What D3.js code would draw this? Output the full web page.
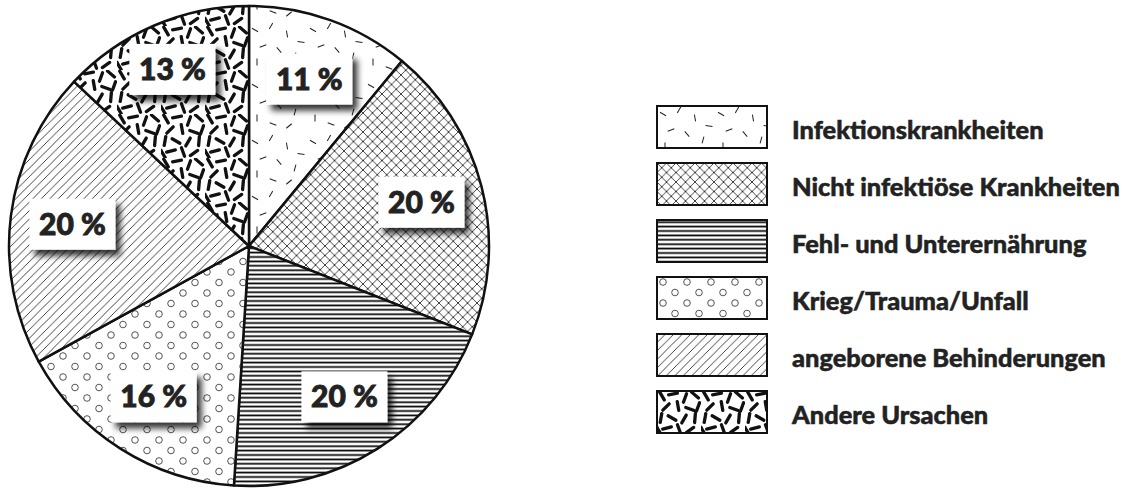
<!DOCTYPE html>
<html lang="de">
<head>
<meta charset="UTF-8">
<title>Todesursachen</title>
<script src="https://cdn.jsdelivr.net/npm/d3@7"></script>
<style>
    body { margin: 0; background: #fff; }
    svg { display: block; }
    .lbl { font-family: Lato, "DejaVu Sans", sans-serif; font-weight: 900; }
</style>
</head>
<body>
<script>
    // data
    const categories = ["Infektionskrankheiten", "Nicht infektiöse Krankheiten", "Fehl- und Unterernährung",
                        "Krieg/Trauma/Unfall", "angeborene Behinderungen", "Andere Ursachen"]
    const values = [11, 20, 20, 16, 20, 13]
    const patternIds = ["dash", "cross", "hlines", "rings", "diag", "blots"]

    const width = 1125, height = 488
    const cx = 249, cy = 246, R = 240

    const svg = d3.select("body").append("svg")
        .attr("width", width).attr("height", height)
        .attr("viewBox", `0 0 ${width} ${height}`)

    const defs = svg.append("defs")

    // shadow for label boxes
    const f = defs.append("filter").attr("id", "shadow")
        .attr("x", "-20%").attr("y", "-20%").attr("width", "150%").attr("height", "160%")
    f.append("feGaussianBlur").attr("in", "SourceAlpha").attr("stdDeviation", 3).attr("result", "b")
    f.append("feOffset").attr("in", "b").attr("dx", 5).attr("dy", 6).attr("result", "o")
    f.append("feComponentTransfer").attr("in", "o").attr("result", "s")
        .append("feFuncA").attr("type", "linear").attr("slope", 0.8)
    const fm = f.append("feMerge")
    fm.append("feMergeNode").attr("in", "s")
    fm.append("feMergeNode").attr("in", "SourceGraphic")

    function pattern(id, w, h) {
        const p = defs.append("pattern").attr("id", id)
            .attr("patternUnits", "userSpaceOnUse").attr("width", w).attr("height", h)
        p.append("rect").attr("width", w).attr("height", h).attr("fill", "#fff")
        return p
    }

    // sparse thin dashes
    const thin = [[6,8,30],[22,4,-60],[38,12,80],[14,24,-20],[30,28,50],[46,34,-75],
                  [8,40,90],[24,46,20],[40,48,-40],[52,20,10]]
    const pDash = pattern("dash", 58, 56)
    thin.forEach(([x, y, a]) => {
        pDash.append("line").attr("x1", -3.5).attr("x2", 3.5).attr("y1", 0).attr("y2", 0)
            .attr("transform", `translate(${x},${y}) rotate(${a})`)
            .attr("stroke", "#222").attr("stroke-width", 1)
    })

    // cross hatch
    const pCross = pattern("cross", 9.5, 9.5)
    pCross.append("path").attr("d", "M0,0L9.5,9.5M9.5,0L0,9.5M-1,8.5L1,10.5M8.5,-1L10.5,1M-1,1L1,-1M8.5,10.5L10.5,8.5")
        .attr("stroke", "#222").attr("stroke-width", 0.85)

    // horizontal lines
    const pH = pattern("hlines", 10, 4.4)
    pH.append("line").attr("x1", 0).attr("x2", 10).attr("y1", 2.2).attr("y2", 2.2)
        .attr("stroke", "#000").attr("stroke-width", 1.7)

    // small rings
    const pR = pattern("rings", 24, 21)
    ;[[6,5],[18,15.5]].forEach(([x, y]) => {
        pR.append("circle").attr("cx", x).attr("cy", y).attr("r", 3.3)
            .attr("fill", "none").attr("stroke", "#333").attr("stroke-width", 0.85)
    })

    // diagonal lines
    const pD = pattern("diag", 8.5, 8.5)
    pD.append("path").attr("d", "M0,8.5L8.5,0M-2,2L2,-2M6.5,10.5L10.5,6.5")
        .attr("stroke", "#222").attr("stroke-width", 0.85)

    // dense thick dashes
    const thick = [[5,5,60],[16,3,-10],[28,7,110],[38,4,40],[9,16,-45],[21,15,80],[33,18,20],
                   [4,27,100],[15,27,30],[27,28,-60],[38,27,95],[10,37,-15],[22,38,70],
                   [33,39,-35],[41,16,-70],[2,40,60]]
    const pB = pattern("blots", 44, 44)
    thick.forEach(([x, y, a]) => {
        pB.append("line").attr("x1", -4.5).attr("x2", 4.5).attr("y1", 0).attr("y2", 0)
            .attr("transform", `translate(${x},${y}) rotate(${a})`)
            .attr("stroke", "#111").attr("stroke-width", 3.3).attr("stroke-linecap", "round")
    })

    // pie
    const data = categories.map((c, i) => ({ name: c, value: values[i], pat: patternIds[i] }))
    const pie = d3.pie().sort(null).value(d => d.value)
    const arc = d3.arc().innerRadius(0).outerRadius(R)
    const arcs = pie(data)

    const g = svg.append("g").attr("transform", `translate(${cx},${cy})`)
    g.selectAll("path.slice").data(arcs).enter().append("path")
        .attr("class", "slice")
        .attr("d", arc)
        .attr("fill", d => `url(#${d.data.pat})`)
        .attr("stroke", "#111").attr("stroke-width", 2.5).attr("stroke-linejoin", "round")

    const labelR = i => (i === 5 ? 193 : 178)
    const lab = g.selectAll("g.lab").data(arcs).enter().append("g")
        .attr("class", "lab")
        .attr("transform", (d, i) => {
            const c = d3.arc().innerRadius(labelR(i)).outerRadius(labelR(i)).centroid(d)
            return `translate(${c[0]},${c[1]})`
        })
    lab.append("rect").attr("x", -43).attr("y", -25).attr("width", 86).attr("height", 51)
        .attr("fill", "#fff").attr("filter", "url(#shadow)")
    lab.append("text").attr("class", "lbl")
        .attr("text-anchor", "middle").attr("y", 11)
        .attr("font-size", 30).attr("fill", "#222")
        .attr("stroke", "#222").attr("stroke-width", 0.9)
        .text(d => d.data.value + " %")

    // legend
    const legY = d3.scalePoint().domain(categories).range([106, 391])
    const leg = svg.append("g").selectAll("g").data(data).enter().append("g")
        .attr("transform", d => `translate(657,${legY(d.name)})`)
    leg.append("rect").attr("width", 110).attr("height", 42)
        .attr("fill", d => `url(#${d.pat})`)
        .attr("stroke", "#111").attr("stroke-width", 2)
    const lt = leg.append("text").attr("class", "lbl")
        .attr("x", 135).attr("y", 33).attr("font-size", 24).attr("fill", "#222")
        .attr("stroke", "#222").attr("stroke-width", 0.5)
        .text(d => d.name)

    // fit legend text to the printed width
    const ref = lt.filter(d => d.name === categories[1]).node().getComputedTextLength()
    lt.attr("font-size", 24 * 328 / ref)
</script>
</body>
</html>
